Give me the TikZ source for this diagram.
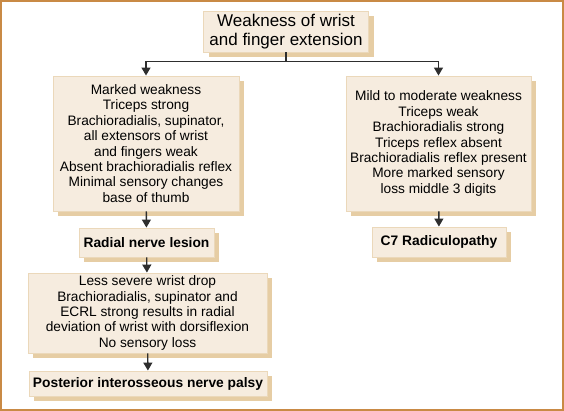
\documentclass[tikz,border=0pt]{standalone}
\usepackage{fontspec}
\setmainfont{Liberation Sans}
\usepackage{tikz}
\usetikzlibrary{arrows.meta,positioning,calc,shadows}
\definecolor{NerveFill}{HTML}{F6ECDF}
\definecolor{NerveEdge}{HTML}{EBD8BA}
\definecolor{NerveShadow}{HTML}{E6CDA4}
\definecolor{NerveFrame}{HTML}{C98A45}
\definecolor{NerveInk}{HTML}{2E2E2E}
\tikzset{
  flow/.style={-{Triangle[length=8pt,width=9pt]}, line width=1.3pt, draw=NerveInk},
  card/.style={draw=NerveEdge, fill=NerveFill, line width=0.9pt, align=center,
               inner sep=0pt, text=black,
               general shadow={fill=NerveShadow, shadow xshift=5pt, shadow yshift=-5pt}},
  finding/.style={card, font=\fontsize{13.7}{15.4}\selectfont},
  verdict/.style={card, font=\bfseries\fontsize{13.8}{15.4}\selectfont},
  lead/.style={card, font=\fontsize{17}{19}\selectfont},
}

\begin{document}
\begin{tikzpicture}[x=1pt,y=-1pt]
        \useasboundingbox (0,0) rectangle (564,411);
        \draw[NerveFrame,line width=1.6pt] (1,1) rectangle (563,410);
        \node[lead,minimum width=165pt,minimum height=41pt] (weak) at (286,31.5)
          {Weakness of wrist\\and finger extension};
        \node[finding,minimum width=186pt,minimum height=135pt] (radsigns) at (146,143.5)
          {Marked weakness\\Triceps strong\\Brachioradialis, supinator,\\all extensors of wrist\\and fingers weak\\Absent brachioradialis reflex\\Minimal sensory changes\\base of thumb};
        \node[finding,minimum width=185pt,minimum height=135pt] (c7signs) at (438.5,143.5)
          {Mild to moderate weakness\\Triceps weak\\Brachioradialis strong\\Triceps reflex absent\\Brachioradialis reflex present\\More marked sensory\\loss middle 3 digits};
        \node[verdict,minimum width=135pt,minimum height=29pt] (radial) at (146.5,242.5)
          {Radial nerve lesion};
        \node[verdict,minimum width=134pt,minimum height=30pt] (c7) at (439,242)
          {C7 Radiculopathy};
        \node[finding,minimum width=239pt,minimum height=80pt] (pinsigns) at (147.5,313)
          {Less severe wrist drop\\Brachioradialis, supinator and\\ECRL strong results in radial\\deviation of wrist with dorsiflexion\\No sensory loss};
        \node[verdict,minimum width=238pt,minimum height=25pt] (pin) at (148,383.5)
          {Posterior interosseous nerve palsy};
        % split under the top box
        \coordinate (split) at ($(weak.south)+(0,9)$);
        \draw[line width=1.3pt,NerveInk] (weak.south) -- (split);
        \draw[flow] (split) -| (radsigns.north);
        \draw[flow] (split) -| (c7signs.north);
        \draw[flow] (radsigns) -- (radial);
        \draw[flow] (radial) -- (pinsigns);
        \draw[flow] (pinsigns) -- (pin);
        \draw[flow] (c7signs) -- (c7);
      \end{tikzpicture}
\end{document}
